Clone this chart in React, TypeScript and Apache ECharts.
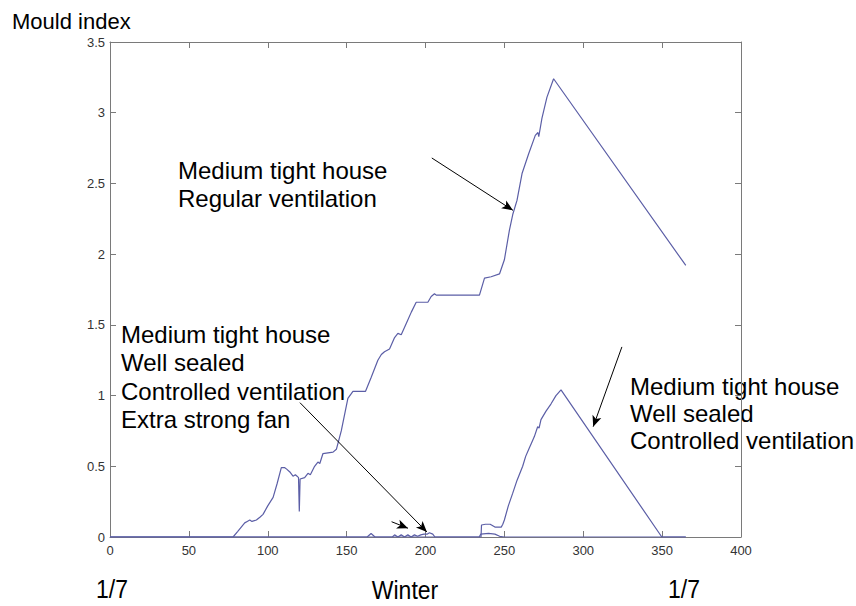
import React, { useEffect, useRef } from "react";
import * as echarts from "echarts";

// Medium tight house, regular ventilation
const regularDays = [0, 78, 81, 85.4, 87, 88.6, 90, 92.8, 95, 97, 100, 103.4, 106, 108.6, 110.8, 112, 114, 116, 117.5, 118.6, 119.5, 120, 120.5, 123.4, 125.5, 127, 129.7, 131.8, 133, 135, 141.4, 143.5, 146.6, 150.8, 154, 162, 165.6, 169.8, 172, 174, 177.2, 180.4, 182.5, 184.6, 187.8, 191, 194.1, 201.5, 203.6, 205.7, 206.8, 234.2, 237.4, 241.6, 246.9, 250, 253.2, 255.3, 258, 261.2, 265.4, 269.6, 271.3, 271.8, 273.8, 277, 281.2, 365];
const regularIndex = [0, 0, 0.04, 0.1, 0.11, 0.12, 0.11, 0.12, 0.14, 0.16, 0.22, 0.28, 0.38, 0.49, 0.49, 0.48, 0.46, 0.43, 0.44, 0.43, 0.42, 0.18, 0.41, 0.42, 0.45, 0.44, 0.5, 0.53, 0.52, 0.59, 0.6, 0.62, 0.75, 0.98, 1.03, 1.03, 1.13, 1.25, 1.29, 1.31, 1.33, 1.41, 1.44, 1.43, 1.51, 1.59, 1.66, 1.66, 1.7, 1.72, 1.71, 1.71, 1.83, 1.84, 1.86, 1.96, 2.17, 2.28, 2.38, 2.57, 2.71, 2.84, 2.86, 2.83, 2.96, 3.11, 3.24, 1.92];

// Medium tight house, well sealed, controlled ventilation
const sealedDays = [0, 235.2, 235.5, 238, 241, 244, 248, 249, 250, 252.5, 255.3, 258, 261.6, 263.5, 265.8, 267, 269, 271.1, 272, 273.2, 276.4, 279.5, 282.7, 285.9, 349.8, 365];
const sealedIndex = [0, 0, 0.085, 0.09, 0.09, 0.07, 0.07, 0.09, 0.12, 0.22, 0.31, 0.4, 0.5, 0.57, 0.63, 0.66, 0.71, 0.78, 0.77, 0.83, 0.89, 0.94, 1.0, 1.04, 0, 0];

// Medium tight house, well sealed, controlled ventilation, extra strong fan
const fanDays = [0, 163, 165.5, 168, 179, 180.4, 182.5, 184.6, 186.7, 188.8, 190.9, 193, 195, 197, 199, 201, 202.5, 204.6, 206, 234, 235, 240, 244, 247, 250, 365];
const fanIndex = [0, 0, 0.025, 0, 0, 0.015, 0, 0.015, 0, 0.015, 0, 0.015, 0.005, 0.015, 0.02, 0.02, 0.03, 0.02, 0, 0, 0.02, 0.025, 0.02, 0.005, 0, 0];

// annotation arrows: [fromDay, fromIndex, toDay, toIndex]
const arrows = [
  [204, 2.68, 255.4, 2.31],
  [120.4, 0.95, 200.9, 0.035],
  [178.5, 0.108, 188.9, 0.062],
  [324.5, 1.344, 306.3, 0.78],
];

const xTicks = { min: 0, max: 400, step: 50 };
const yTicks = { min: 0, max: 3.5, step: 0.5 };

const FONT = "'Liberation Sans', Arial, Helvetica, sans-serif";
const LINE = "#5b5ea6";
const AXIS = "#7a7a7a";

const pair = (xs: number[], ys: number[]) => xs.map((x, i) => [x, ys[i]]);

const label = (text: string, x: number, y: number, size = 24, extra: any = {}) => ({
  type: "text",
  x,
  y,
  ...extra,
  style: { text, fontSize: size, fontFamily: FONT, fill: "#000", align: extra.align || "left", verticalAlign: "middle" },
});

export default function App() {
  const ref = useRef<HTMLDivElement>(null);
  useEffect(() => {
    if (!ref.current) return;
    const chart = echarts.init(ref.current, null, { renderer: "svg" });
    const axisCommon = {
      type: "value" as const,
      axisLine: { show: true, onZero: false, lineStyle: { color: AXIS, width: 1 } },
      axisTick: { show: true, inside: true, length: 6, lineStyle: { color: AXIS } },
      splitLine: { show: false },
    };
    const lineSeries = (name: string, data: number[][], extra: any = {}) => ({
      name,
      type: "line",
      data,
      showSymbol: false,
      symbol: "none",
      silent: true,
      lineStyle: { color: LINE, width: 1.2 },
      z: 3,
      ...extra,
    });
    chart.setOption({
      animation: false,
      backgroundColor: "#ffffff",
      grid: { left: 110, right: 115, top: 42, bottom: 69, containLabel: false },
      xAxis: [
        {
          ...axisCommon,
          position: "bottom",
          min: xTicks.min,
          max: xTicks.max,
          interval: xTicks.step,
          axisLabel: { color: "#333", fontSize: 13, fontFamily: FONT, margin: 7 },
        },
        {
          ...axisCommon,
          position: "top",
          min: xTicks.min,
          max: xTicks.max,
          interval: xTicks.step,
          axisLabel: { show: false },
        },
      ],
      yAxis: [
        {
          ...axisCommon,
          position: "left",
          min: yTicks.min,
          max: yTicks.max,
          interval: yTicks.step,
          axisLabel: { color: "#333", fontSize: 13, fontFamily: FONT, margin: 5 },
        },
        {
          ...axisCommon,
          position: "right",
          min: yTicks.min,
          max: yTicks.max,
          interval: yTicks.step,
          axisLabel: { show: false },
        },
      ],
      series: [
        lineSeries("Regular ventilation", pair(regularDays, regularIndex), {
          markLine: {
            silent: true,
            symbol: ["none", "arrow"],
            symbolSize: [7, 11],
            label: { show: false },
            lineStyle: { color: "#000", width: 1, type: "solid" },
            data: arrows.map((a) => [{ coord: [a[0], a[1]] }, { coord: [a[2], a[3]] }]),
          },
        }),
        lineSeries("Controlled ventilation", pair(sealedDays, sealedIndex)),
        lineSeries("Extra strong fan", pair(fanDays, fanIndex)),
      ],
      graphic: [
        label("Mould index", 12, 21, 22),
        label("Medium tight house", 178, 170),
        label("Regular ventilation", 178, 198),
        label("Medium tight house", 121, 334),
        label("Well sealed", 121, 362),
        label("Controlled ventilation", 121, 391),
        label("Extra strong fan", 121, 419),
        label("Medium tight house", 630, 386),
        label("Well sealed", 630, 413),
        label("Controlled ventilation", 630, 440),
        label("1/7", 112, 589, 25, { scaleX: 0.92, align: "center" }),
        label("Winter", 405, 590, 25, { scaleX: 0.92, align: "center" }),
        label("1/7", 684, 589, 25, { scaleX: 0.92, align: "center" }),
      ],
    });
    return () => chart.dispose();
  }, []);
  return <div ref={ref} style={{ width: 856, height: 606, position: "absolute", left: 0, top: 0 }} />;
}
